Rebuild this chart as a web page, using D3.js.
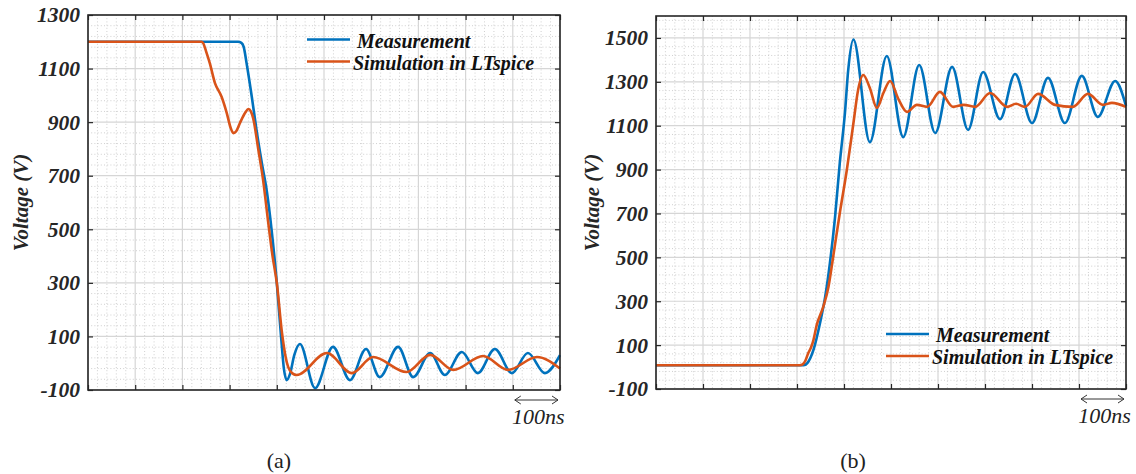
<!DOCTYPE html>
<html><head><meta charset="utf-8">
<script src="https://cdn.jsdelivr.net/npm/d3@7"></script>
<style>
body{margin:0;background:#fff}svg{display:block}
.ser{font-family:"Liberation Serif",serif}
.bi{font-family:"Liberation Serif",serif;font-weight:bold;font-style:italic}
</style>
</head><body>
<svg id="chart" width="1136" height="474"></svg>
<script>
// ---- data (time in ns, voltage in V) ----
const seriesNames = ["Measurement", "Simulation in LTspice"];
const seriesColors = ["#0072BD", "#D95319"];
const timeTicks = [0,100,200,300,400,500,600,700,800,900,1000];
const voltTicksA = [-100,100,300,500,700,900,1100,1300];
const voltTicksB = [-100,100,300,500,700,900,1100,1300,1500];

const measurementA = [[0,1200],[318,1200],[325,1196],[330,1180],[336,1120],[347,995],[357,871],[368,750],[379,640],[389,497],[400,300],[409,100],[415,-20],[421,-63],[428,-40],[437,30],[449,72],[481,-93],[519,61],[555,-63],[589,53],[618,-52],[657,61],[689,-52],[725,38],[756,-44],[792,42],[826,-37],[862,53],[898,-37],[932,38],[968,-37],[1000,30]];
const simulationA = [[0,1200],[240,1200],[244,1195],[250,1165],[258,1120],[269,1046],[283,995],[294,934],[302,880],[308,859],[314,866],[322,897],[333,935],[340,949],[345,940],[350,914],[361,796],[371,684],[382,523],[391,400],[400,300],[411,113],[418,30],[424,-14],[433,-38],[442,-44],[506,38],[559,-37],[604,23],[675,-33],[725,31],[774,-25],[837,27],[890,-25],[951,23],[1000,-20]];
const measurementB = [[0,8],[314,8],[322,18],[335,78],[349,201],[360,321],[370,474],[381,685],[391,929],[402,1158],[409,1354],[420,1493],[455,1025],[491,1418],[526,1048],[560,1377],[594,1067],[630,1368],[664,1081],[696,1345],[732,1130],[764,1336],[800,1112],[834,1318],[870,1112],[906,1327],[940,1140],[977,1304],[1000,1190]];
const simulationB = [[0,8],[306,8],[312,12],[318,30],[324,64],[330,90],[335,123],[342,192],[356,275],[367,366],[377,503],[391,701],[406,898],[420,1111],[430,1263],[441,1331],[455,1272],[470,1181],[484,1250],[498,1304],[516,1220],[534,1163],[555,1195],[577,1186],[604,1254],[632,1186],[655,1195],[679,1186],[711,1249],[747,1186],[766,1200],[785,1186],[813,1245],[849,1195],[887,1186],[919,1245],[951,1195],[970,1204],[1000,1186]];

const panels = [
  {box:{l:88,t:15,r:560,b:390}, yDom:[-100,1300], yTicks:voltTicksA, series:[measurementA, simulationA],
   ylabX:21, legend:{x:307,y:39.5}, scaleBar:{y:400}, tag:"(a)", tagX:279},
  {box:{l:656,t:16,r:1126,b:389}, yDom:[-100,1600], yTicks:voltTicksB, series:[measurementB, simulationB],
   ylabX:592, legend:{x:886,y:334}, scaleBar:{y:399}, tag:"(b)", tagX:853}
];

const svg = d3.select("#chart");

panels.forEach(p => {
  const {l,t,r,b} = p.box;
  const x = d3.scaleLinear().domain([0,1000]).range([l,r]);
  const y = d3.scaleLinear().domain(p.yDom).range([b,t]);
  const g = svg.append("g");
  const W = r-l, H = b-t;

  // minor grid
  const minorX = d3.range(0,1000.001,20).filter(v => v%100!==0);
  const minorY = d3.range(p.yDom[0], p.yDom[1]+0.001, 40).filter(v => (v+100)%200!==0);
  g.append("g").selectAll("line").data(minorX).join("line")
    .attr("x1",d=>x(d)).attr("x2",d=>x(d)).attr("y1",t).attr("y2",b)
    .attr("stroke","#c4c4c4").attr("stroke-width",0.8).attr("stroke-dasharray","1,2.2");
  g.append("g").selectAll("line").data(minorY).join("line")
    .attr("y1",d=>y(d)).attr("y2",d=>y(d)).attr("x1",l).attr("x2",r)
    .attr("stroke","#c4c4c4").attr("stroke-width",0.8).attr("stroke-dasharray","1,2.2");
  // major grid
  g.append("g").selectAll("line").data(timeTicks).join("line")
    .attr("x1",d=>x(d)).attr("x2",d=>x(d)).attr("y1",t).attr("y2",b)
    .attr("stroke","#d6d6d6").attr("stroke-width",1.2);
  g.append("g").selectAll("line").data(p.yTicks).join("line")
    .attr("y1",d=>y(d)).attr("y2",d=>y(d)).attr("x1",l).attr("x2",r)
    .attr("stroke","#d6d6d6").attr("stroke-width",1.2);

  // curves
  const line = d3.line().x(d=>x(d[0])).y(d=>y(d[1])).curve(d3.curveMonotoneX);
  p.series.forEach((s,i) => {
    g.append("path").datum(s).attr("d",line).attr("fill","none")
      .attr("stroke",seriesColors[i]).attr("stroke-width",2.6).attr("stroke-linejoin","round");
  });

  // axes with inward ticks
  const axL = g.append("g").attr("transform",`translate(${l},0)`)
    .call(d3.axisLeft(y).tickValues(p.yTicks).tickFormat(d => String(d)).tickSizeInner(-5).tickSizeOuter(0).tickPadding(8));
  axL.attr("font-family",null).attr("font-size",null);
  axL.selectAll("text").attr("class","bi").style("font-size","21.5px").attr("fill","#262626");
  g.append("g").attr("transform",`translate(${r},0)`)
    .call(d3.axisRight(y).tickValues(p.yTicks).tickSizeInner(-5).tickSizeOuter(0).tickFormat(""));
  g.append("g").attr("transform",`translate(0,${b})`)
    .call(d3.axisBottom(x).tickValues(timeTicks).tickSizeInner(-5).tickSizeOuter(0).tickFormat(""));
  g.append("g").attr("transform",`translate(0,${t})`)
    .call(d3.axisTop(x).tickValues(timeTicks).tickSizeInner(-5).tickSizeOuter(0).tickFormat(""));
  g.selectAll(".domain").remove();
  g.selectAll(".tick line").attr("stroke","#262626").attr("stroke-width",1.2);
  g.append("rect").attr("x",l).attr("y",t).attr("width",W).attr("height",H)
    .attr("fill","none").attr("stroke","#262626").attr("stroke-width",1.6);

  // y label
  g.append("text").attr("class","bi").attr("transform",`translate(${p.ylabX},${(t+b)/2}) rotate(-90)`)
    .attr("text-anchor","middle").attr("dominant-baseline","central")
    .style("font-size","21px").attr("fill","#262626").text("Voltage (V)");

  // legend
  seriesNames.forEach((n,i) => {
    const ly = p.legend.y + i*22;
    g.append("line").attr("x1",p.legend.x).attr("x2",p.legend.x+43).attr("y1",ly).attr("y2",ly)
      .attr("stroke",seriesColors[i]).attr("stroke-width",2.6);
    g.append("text").attr("class","bi").attr("x",p.legend.x+(i===0?50:46)).attr("y",ly+1).attr("dominant-baseline","central")
      .style("font-size","20px").attr("fill","#111").text(n);
  });

  // scale bar 100 ns
  const x0 = x(900)+2, x1 = x(1000)-2, sy = p.scaleBar.y;
  g.append("line").attr("x1",x0).attr("x2",x1).attr("y1",sy).attr("y2",sy).attr("stroke","#333").attr("stroke-width",1);
  g.append("path").attr("d",`M${x0+6},${sy-4}L${x0},${sy}L${x0+6},${sy+4}M${x1-6},${sy-4}L${x1},${sy}L${x1-6},${sy+4}`)
    .attr("fill","none").attr("stroke","#333").attr("stroke-width",1);
  g.append("text").attr("class","ser").attr("x",(x0+x1)/2+2).attr("y",sy+24).attr("text-anchor","middle")
    .style("font-style","italic").style("font-size","22px").attr("fill","#222").text("100ns");

  // panel tag
  svg.append("text").attr("class","ser").attr("x",p.tagX).attr("y",468).attr("text-anchor","middle")
    .style("font-size","22px").attr("fill","#222").text(p.tag);
});
</script>
</body></html>
